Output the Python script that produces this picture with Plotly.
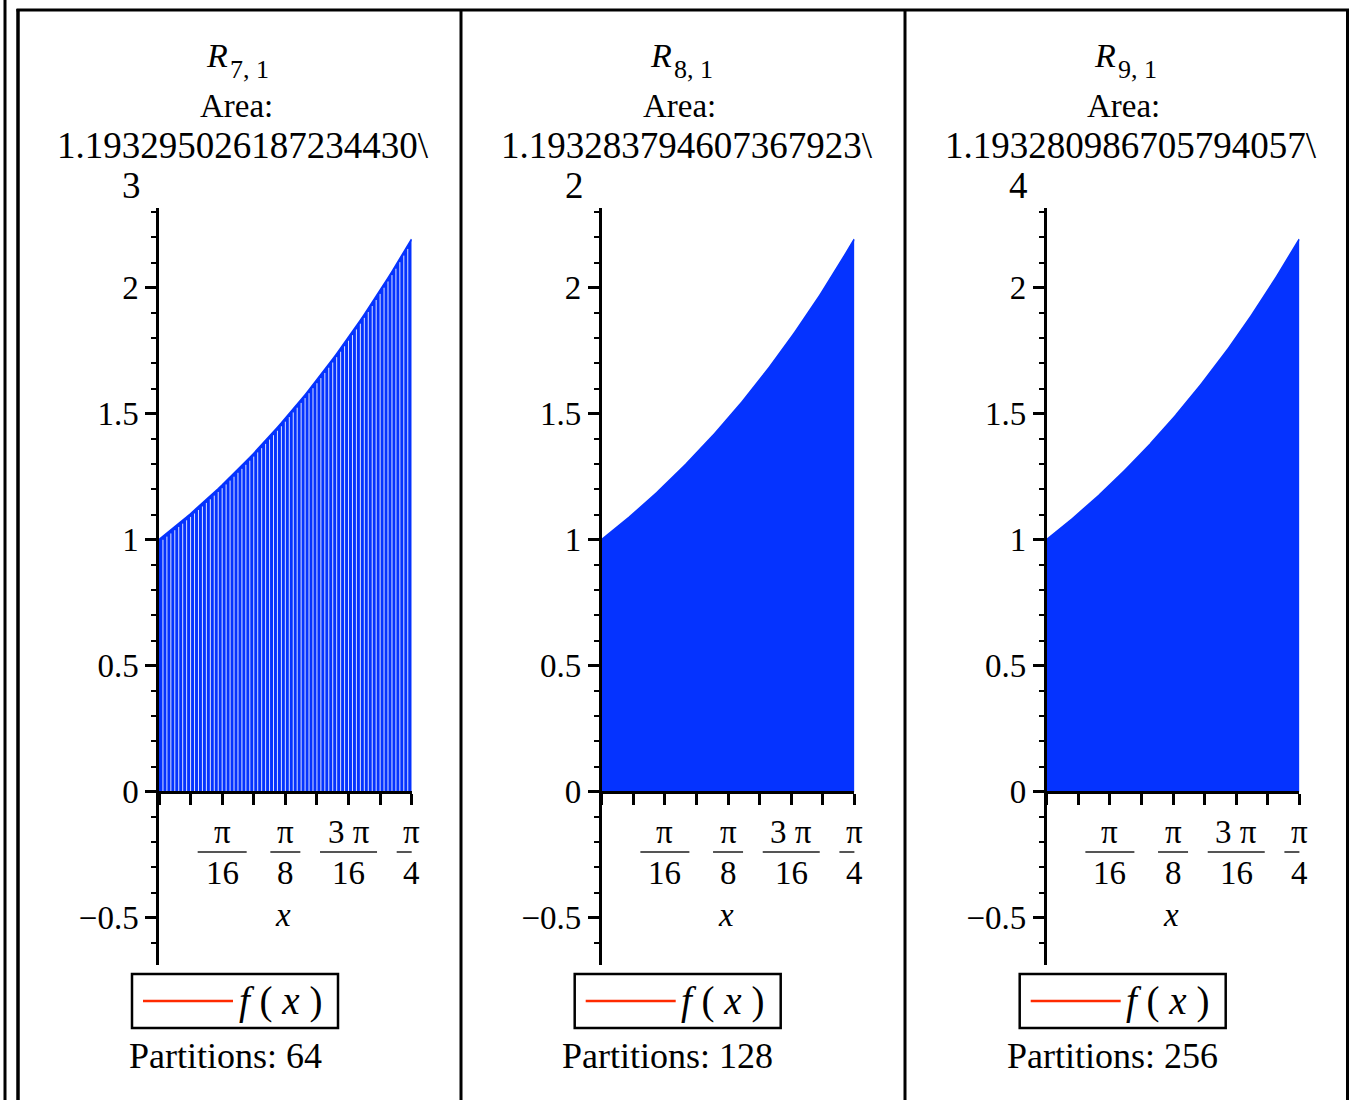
import numpy as np
import plotly.graph_objects as go

W, H = 1352, 1100

# ---- data ----
levels = ["7, 1", "8, 1", "9, 1"]
partitions = [64, 128, 256]
area_main = ["1.193295026187234430\\", "1.193283794607367923\\", "1.193280986705794057\\"]
area_tail = ["3", "2", "4"]
x_start, x_end = 0.0, np.pi / 4
y_tick_vals = [-0.5, 0, 0.5, 1, 1.5, 2]
y_tick_text = ["\u22120.5", "0", "0.5", "1", "1.5", "2"]
y_minor_vals = [round(v, 1) for v in np.arange(-0.6, 2.31, 0.1)]
frac_num = ["π", "π", "3 π", "π"]
frac_den = ["16", "8", "16", "4"]
frac_val = [1 / 16, 1 / 8, 3 / 16, 1 / 4]   # multiples of π
x_minor_count = 8                          # ticks every π/32

def f(x):
    return np.exp(x)

# ---- style / layout ----
BLUE = "#0533ff"
RED = "#ff2a00"
FONT = "Liberation Serif, Times New Roman, serif"
axis_left_px = [159, 601.7, 1046.7]
axis_w_px = 252.7
panel_centers = [239, 682.5, 1126.5]
stripes = [True, False, False]
frac_bar_w = [49, 30, 57, 30]
y_top_px, y_bot_px, y0_px = 208, 965, 792
y_range = [-0.687, 2.317]

def px(x):
    return x / W

def py(y):
    return 1 - y / H

fig = go.Figure()
annotations = []
shapes = []

def txt(x, y, text, size, xref="paper", xanchor="center"):
    annotations.append(dict(x=x, xref=xref, y=y, yref="paper", text=text,
                            showarrow=False, xanchor=xanchor, yanchor="middle",
                            font=dict(family=FONT, size=size, color="black")))

for i in range(3):
    n = partitions[i]
    xa = "x" if i == 0 else f"x{i+1}"
    ya = "y" if i == 0 else f"y{i+1}"
    nodes = np.linspace(x_start, x_end, n + 1)
    vals = f(nodes)

    # trapezoids (union polygon)
    fig.add_trace(go.Scatter(
        x=np.concatenate([[x_start], nodes, [x_end]]),
        y=np.concatenate([[0], vals, [0]]),
        fill="toself", fillcolor=BLUE, mode="lines",
        line=dict(width=0, color=BLUE), hoverinfo="skip",
        showlegend=False, xaxis=xa, yaxis=ya))
    if stripes[i]:
        sx, sy = [], []
        for k in range(1, n):
            sx += [nodes[k], nodes[k], None]
            sy += [0, vals[k] - 0.012, None]
        fig.add_trace(go.Scatter(
            x=sx, y=sy, mode="lines",
            line=dict(width=1, color="rgba(255,255,255,0.85)"),
            hoverinfo="skip", showlegend=False, xaxis=xa, yaxis=ya))
    fig.add_trace(go.Scatter(
        x=nodes, y=vals, mode="lines", line=dict(width=2, color=BLUE),
        hoverinfo="skip", showlegend=False, xaxis=xa, yaxis=ya))

    L = axis_left_px[i]
    xtick_vals = [x_start + k * (x_end - x_start) / x_minor_count for k in range(x_minor_count + 1)]
    fig.layout[("xaxis" if i == 0 else f"xaxis{i+1}")] = dict(
        domain=[px(L), px(L + axis_w_px)], range=[x_start, x_end],
        anchor="free", position=py(y0_px),
        showline=True, linecolor="black", linewidth=2.5,
        ticks="outside", tickvals=xtick_vals, ticklen=11, tickwidth=2.5,
        tickcolor="black", showticklabels=False, showgrid=False, zeroline=False,
        fixedrange=True)
    fig.layout[("yaxis" if i == 0 else f"yaxis{i+1}")] = dict(
        domain=[py(y_bot_px), py(y_top_px)], range=y_range, anchor=xa,
        showline=True, linecolor="black", linewidth=2.5,
        ticks="outside", tickvals=y_tick_vals, ticktext=y_tick_text,
        ticklen=11, tickwidth=2.5, tickcolor="black",
        tickfont=dict(family=FONT, size=33, color="black"),
        minor=dict(ticks="outside", tickvals=y_minor_vals, ticklen=5,
                   tickwidth=2, tickcolor="black", showgrid=False),
        showgrid=False, zeroline=False, fixedrange=True)

    # fraction tick labels
    for j in range(4):
        xv = frac_val[j] * np.pi
        txt(xv, py(832), frac_num[j], 33, xref=xa)
        txt(xv, py(873), frac_den[j], 33, xref=xa)
        shapes.append(dict(type="line", xref=xa, yref="paper", xsizemode="pixel",
                           xanchor=xv, x0=-frac_bar_w[j] / 2, x1=frac_bar_w[j] / 2,
                           y0=py(852), y1=py(852),
                           line=dict(color="#555555", width=2)))
    # x label
    txt(px(L + 124), py(915), "<i>x</i>", 33)

    # titles
    C = panel_centers[i]
    txt(px(C - 22), py(55), "<i>R</i>", 34)
    txt(px(C - 11), py(70), levels[i], 26, xanchor="left")
    txt(px(C - 3), py(106), "Area:", 33)
    txt(px(C + 4), py(146), area_main[i], 37)
    txt(px(C - 108), py(186), area_tail[i], 37)

    # legend box
    bl = L - 27
    shapes.append(dict(type="rect", xref="paper", yref="paper",
                       x0=px(bl), x1=px(bl + 206), y0=py(974), y1=py(1028),
                       line=dict(color="black", width=2.5), fillcolor="white"))
    shapes.append(dict(type="line", xref="paper", yref="paper",
                       x0=px(bl + 11), x1=px(bl + 101), y0=py(1001), y1=py(1001),
                       line=dict(color=RED, width=2.5)))
    txt(px(bl + 148), py(1001), "<i>f</i> ( <i>x</i> )", 39)
    txt(px(L + 66), py(1056), f"Partitions: {n}", 36)

# panel frame lines
frame = [(5, 0, 5, 1100, 3), (18, 9, 18, 1100, 3.5), (16.5, 10, 1349, 10, 3),
         (461, 10, 461, 1100, 3), (905, 10, 905, 1100, 3), (1347.5, 10, 1347.5, 1100, 3)]
for x0, y0, x1, y1, w in frame:
    shapes.append(dict(type="line", xref="paper", yref="paper",
                       x0=px(x0), x1=px(x1), y0=py(y0), y1=py(y1),
                       line=dict(color="black", width=w)))

fig.update_layout(width=W, height=H, margin=dict(l=0, r=0, t=0, b=0),
                  paper_bgcolor="white", plot_bgcolor="white",
                  annotations=annotations, shapes=shapes, showlegend=False)
fig.write_html("out.html")
